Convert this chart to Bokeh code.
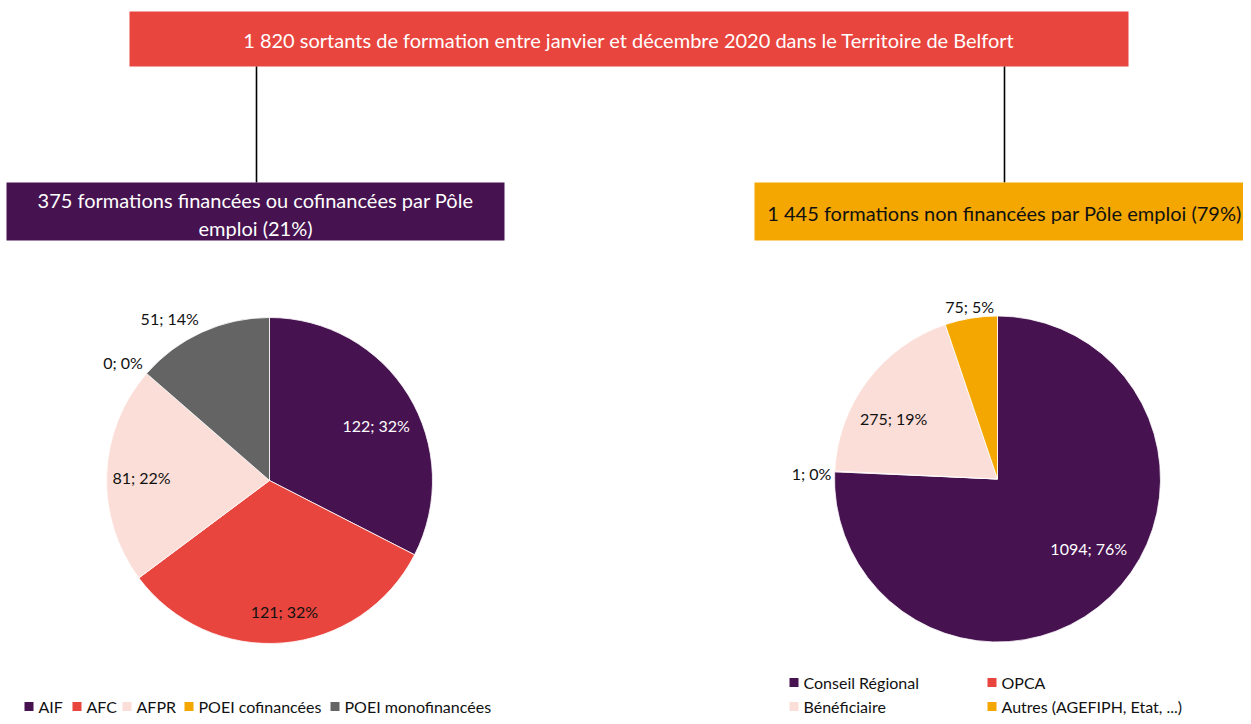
import math
from bokeh.plotting import figure
from bokeh.models import Range1d
from bokeh.core.properties import value
from bokeh.embed import file_html
from bokeh.resources import INLINE

# ---------------- data ----------------
title_text = "1 820 sortants de formation entre janvier et décembre 2020 dans le Territoire de Belfort"
left_title = ["375 formations financées ou cofinancées par Pôle", "emploi (21%)"]
right_title = "1 445 formations non financées par Pôle emploi (79%)"

left_cats = ["AIF", "AFC", "AFPR", "POEI cofinancées", "POEI monofinancées"]
left_vals = [122, 121, 81, 0, 51]
left_pcts = [32, 32, 22, 0, 14]

right_cats = ["Conseil Régional", "OPCA", "Bénéficiaire", "Autres (AGEFIPH, Etat, ...)"]
right_vals = [1094, 1, 275, 75]
right_pcts = [76, 0, 19, 5]

# ---------------- styles ----------------
PURPLE = "#461250"
RED = "#E8453E"
PINK = "#FBDED7"
ORANGE = "#F4A700"
GREY = "#646464"
left_colors = [PURPLE, RED, PINK, ORANGE, GREY]
right_colors = [PURPLE, RED, PINK, ORANGE]
left_label_colors = ["white", "#111111", "#111111", "#111111", "#111111"]
right_label_colors = ["white", "#111111", "#111111", "#111111"]
left_label_r = [120, 132, 128, 188, 190]
left_label_dang = [4.2, -1.7, -0.7, -2.2, -7.2]
right_label_r = [115, 186, 120, 175]
right_label_dang = [-8.8, -1.0, -7.0, 0.2]

FONT = "Lato"
W, H = 1243, 716


def Y(s):
    return H - s


p = figure(width=W, height=H, output_backend="svg", toolbar_location=None,
           x_range=Range1d(0, W), y_range=Range1d(0, H),
           min_border=0, outline_line_color=None)
p.axis.visible = False
p.grid.visible = False
p.background_fill_color = "white"
p.border_fill_color = "white"

# ---------- header boxes ----------
p.quad(left=[129], right=[1128], top=[Y(11)], bottom=[Y(66)], fill_color=RED, line_color=None)
p.text(x=[628.5], y=[Y(39)], text=[title_text], text_font=value(FONT), text_font_size="20px",
       text_color="white", text_align="center", text_baseline="middle")

# connectors
p.segment(x0=[256, 1004], y0=[Y(66), Y(66)], x1=[256, 1004], y1=[Y(182), Y(182)],
          line_color="black", line_width=1.6)

p.quad(left=[6], right=[504], top=[Y(182)], bottom=[Y(240)], fill_color=PURPLE, line_color=None)
p.text(x=[255, 255], y=[Y(199), Y(227)], text=left_title, text_font=value(FONT),
       text_font_size="20px", text_color="white", text_align="center", text_baseline="middle")

p.quad(left=[754], right=[1260], top=[Y(182)], bottom=[Y(240)], fill_color=ORANGE, line_color=None)
p.text(x=[1004], y=[Y(212)], text=[right_title], text_font=value(FONT),
       text_font_size="20px", text_color="#111111", text_align="center", text_baseline="middle")


# ---------- pies ----------
def pie(cx, cy, r, vals, pcts, colors, lab_r, lab_dang, lab_colors):
    total = float(sum(vals))
    cum = 0.0
    starts, ends, mids, cols = [], [], [], []
    for v, c in zip(vals, colors):
        a0 = math.pi / 2 - cum / total * 2 * math.pi
        cum += v
        a1 = math.pi / 2 - cum / total * 2 * math.pi
        mids.append((a0 + a1) / 2)
        if v > 0:
            starts.append(a0)
            ends.append(a1)
            cols.append(c)
    p.wedge(x=[cx] * len(starts), y=[Y(cy)] * len(starts), radius=r, radius_units="screen",
            start_angle=starts, end_angle=ends, direction="clock",
            fill_color=cols, line_color="white", line_width=0.8)
    lx, ly, txt = [], [], []
    for v, pc, m, rr, da in zip(vals, pcts, mids, lab_r, lab_dang):
        a = m - math.radians(da)
        lx.append(cx + rr * math.cos(a))
        ly.append(Y(cy) + rr * math.sin(a))
        txt.append(f"{v}; {pc}%")
    p.text(x=lx, y=ly, text=txt, text_font=value(FONT), text_font_size="16px",
           text_color=lab_colors, text_align="center", text_baseline="middle")


pie(269, 480, 163, left_vals, left_pcts, left_colors, left_label_r, left_label_dang, left_label_colors)
pie(997, 478.5, 163, right_vals, right_pcts, right_colors, right_label_r, right_label_dang, right_label_colors)

# ---------- legends ----------
left_leg_x = [24, 72, 122, 184, 330]
left_leg_y = 706
p.rect(x=[x + 4.5 for x in left_leg_x], y=[Y(left_leg_y)] * 5, width=9, height=9,
       fill_color=left_colors, line_color=None)
p.text(x=[x + 14 for x in left_leg_x], y=[Y(left_leg_y)] * 5, text=left_cats,
       text_font=value(FONT), text_font_size="16px", text_color="#111111",
       text_align="left", text_baseline="middle")

right_leg_x = [789, 987, 789, 987]
right_leg_y = [682, 682, 706, 706]
p.rect(x=[x + 4.5 for x in right_leg_x], y=[Y(v) for v in right_leg_y], width=9, height=9,
       fill_color=right_colors, line_color=None)
p.text(x=[x + 14 for x in right_leg_x], y=[Y(v) for v in right_leg_y], text=right_cats,
       text_font=value(FONT), text_font_size="16px", text_color="#111111",
       text_align="left", text_baseline="middle")

open("out.html", "w").write(file_html(p, INLINE))
